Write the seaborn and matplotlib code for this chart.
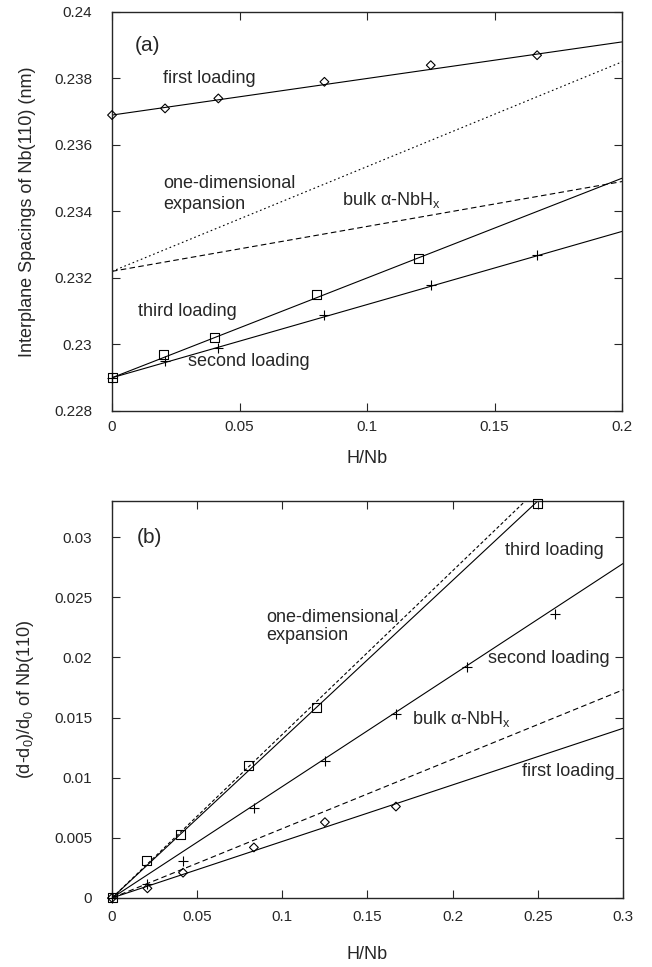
import numpy as np
import matplotlib
matplotlib.use("Agg")
import matplotlib.pyplot as plt
import seaborn as sns
from matplotlib.ticker import FuncFormatter

# panel (a): interplane spacing d (nm) vs H/Nb
first_x = [0, 0.0208, 0.0417, 0.0833, 0.125, 0.1667]
first_d = [0.2369, 0.2371, 0.2374, 0.2379, 0.2384, 0.2387]
second_x = [0, 0.0208, 0.0417, 0.0833, 0.125, 0.1667]
second_d = [0.2290, 0.2295, 0.2299, 0.2309, 0.2318, 0.2327]
third_x = [0, 0.02, 0.04, 0.08, 0.12]
third_d = [0.2290, 0.2297, 0.2302, 0.2315, 0.2326]

# straight fit lines in (a), given at H/Nb = 0 and 0.2
fit_x_a = [0, 0.2]
first_fit_a = [0.2369, 0.2391]
second_fit_a = [0.2290, 0.2334]
third_fit_a = [0.2290, 0.2350]
onedim_fit_a = [0.2322, 0.2385]
bulk_fit_a = [0.2322, 0.2349]

# panel (b): relative change (d-d0)/d0 vs H/Nb
first_rx = [0, 0.0208, 0.0417, 0.0833, 0.125, 0.1667]
first_r = [0, 0.0008, 0.0021, 0.0042, 0.0063, 0.0076]
second_rx = [0, 0.0208, 0.0417, 0.0833, 0.125, 0.1667, 0.2083, 0.26]
second_r = [0, 0.0012, 0.0031, 0.0075, 0.0114, 0.0153, 0.0192, 0.0236]
third_rx = [0, 0.02, 0.04, 0.08, 0.12, 0.25]
third_r = [0, 0.0031, 0.0053, 0.0110, 0.0158, 0.0328]

# fit lines in (b), given at H/Nb = 0 and 0.3
fit_x_b = [0, 0.3]
first_fit_b = [0, 0.0141]
second_fit_b = [0, 0.0278]
third_fit_b = [0, 0.0396]
onedim_fit_b = [0, 0.0408]
bulk_fit_b = [0, 0.0173]

sns.set_style("ticks")
plt.rcParams["font.family"] = ["Liberation Sans", "DejaVu Sans"]
plt.rcParams["mathtext.default"] = "regular"
plt.rcParams["font.size"] = 13
plt.rcParams["xtick.labelsize"] = 11
plt.rcParams["ytick.labelsize"] = 11

fig = plt.figure(figsize=(6.52, 9.67), dpi=100)
ax1 = fig.add_axes([0.1718, 0.575, 0.7822, 0.4126])
ax2 = fig.add_axes([0.1718, 0.0714, 0.7837, 0.4105])

lw = 0.8
fmt = FuncFormatter(lambda v, p: "%g" % round(v, 6))


def markers(ax, x, y, kind):
    if kind == "D":
        sns.scatterplot(x=x, y=y, ax=ax, marker="D", s=20, facecolors="none",
                        edgecolors="black", linewidths=0.8, zorder=3, clip_on=False)
    elif kind == "s":
        sns.scatterplot(x=x, y=y, ax=ax, marker="s", s=42, facecolors="none",
                        edgecolors="black", linewidths=0.8, zorder=3, clip_on=False)
    else:
        sns.scatterplot(x=x, y=y, ax=ax, marker="+", s=55, color="black",
                        linewidths=0.8, zorder=3, clip_on=False)


# ---- panel (a) ----
sns.lineplot(x=fit_x_a, y=first_fit_a, ax=ax1, color="black", lw=lw)
sns.lineplot(x=fit_x_a, y=second_fit_a, ax=ax1, color="black", lw=lw)
sns.lineplot(x=fit_x_a, y=third_fit_a, ax=ax1, color="black", lw=lw)
sns.lineplot(x=fit_x_a, y=onedim_fit_a, ax=ax1, color="black", lw=lw, dashes=(1.5, 2.5))
sns.lineplot(x=fit_x_a, y=bulk_fit_a, ax=ax1, color="black", lw=lw, dashes=(5, 3))
markers(ax1, first_x, first_d, "D")
markers(ax1, second_x, second_d, "+")
markers(ax1, third_x, third_d, "s")

ax1.set_xlim(0, 0.2)
ax1.set_ylim(0.228, 0.24)
ax1.set_xticks(np.arange(0, 0.2001, 0.05))
ax1.set_yticks(np.arange(0.228, 0.24001, 0.002))
ax1.xaxis.set_major_formatter(fmt)
ax1.yaxis.set_major_formatter(fmt)
ax1.set_xlabel("H/Nb", labelpad=11.5)
ax1.set_ylabel("Interplane Spacings of Nb(110) (nm)", labelpad=13)

ax1.text(0.009, 0.2390, "(a)", fontsize=15, va="center")
ax1.text(0.02, 0.2380, "first loading", va="center")
ax1.text(0.02, 0.23452, "one-dimensional\nexpansion", va="center", linespacing=1.3)
ax1.text(0.0902, 0.23435, r"bulk $\alpha$-NbH$_x$", va="center")
ax1.text(0.0102, 0.2310, "third loading", va="center")
ax1.text(0.0298, 0.2295, "second loading", va="center")

# ---- panel (b) ----
sns.lineplot(x=fit_x_b, y=first_fit_b, ax=ax2, color="black", lw=lw)
sns.lineplot(x=fit_x_b, y=second_fit_b, ax=ax2, color="black", lw=lw)
sns.lineplot(x=fit_x_b, y=third_fit_b, ax=ax2, color="black", lw=lw)
sns.lineplot(x=fit_x_b, y=onedim_fit_b, ax=ax2, color="black", lw=lw, dashes=(3, 2))
sns.lineplot(x=fit_x_b, y=bulk_fit_b, ax=ax2, color="black", lw=lw, dashes=(5, 3))
markers(ax2, first_rx, first_r, "D")
markers(ax2, second_rx, second_r, "+")
markers(ax2, third_rx, third_r, "s")

ax2.set_xlim(0, 0.3)
ax2.set_ylim(0, 0.033)
ax2.set_xticks(np.arange(0, 0.3001, 0.05))
ax2.set_yticks(np.arange(0, 0.03001, 0.005))
ax2.xaxis.set_major_formatter(fmt)
ax2.yaxis.set_major_formatter(fmt)
ax2.set_xlabel("H/Nb", labelpad=16)
ax2.set_ylabel("(d-d$_0$)/d$_0$ of Nb(110)", labelpad=13)

ax2.text(0.0147, 0.0300, "(b)", fontsize=15, va="center")
ax2.text(0.0906, 0.02255, "one-dimensional\nexpansion", va="center", linespacing=1.12)
ax2.text(0.2306, 0.0289, "third loading", va="center")
ax2.text(0.2206, 0.0199, "second loading", va="center")
ax2.text(0.176, 0.0149, r"bulk $\alpha$-NbH$_x$", va="center")
ax2.text(0.2406, 0.0105, "first loading", va="center")

for ax, xpad in ((ax1, 6.5), (ax2, 8.6)):
    ax.tick_params(direction="in", top=True, right=True, length=6, width=0.8)
    ax.tick_params(axis="x", pad=xpad)
    ax.tick_params(axis="y", pad=14.4)
    for sp in ax.spines.values():
        sp.set_visible(True)
        sp.set_linewidth(1.0)

fig.savefig("out.png", dpi=100)
